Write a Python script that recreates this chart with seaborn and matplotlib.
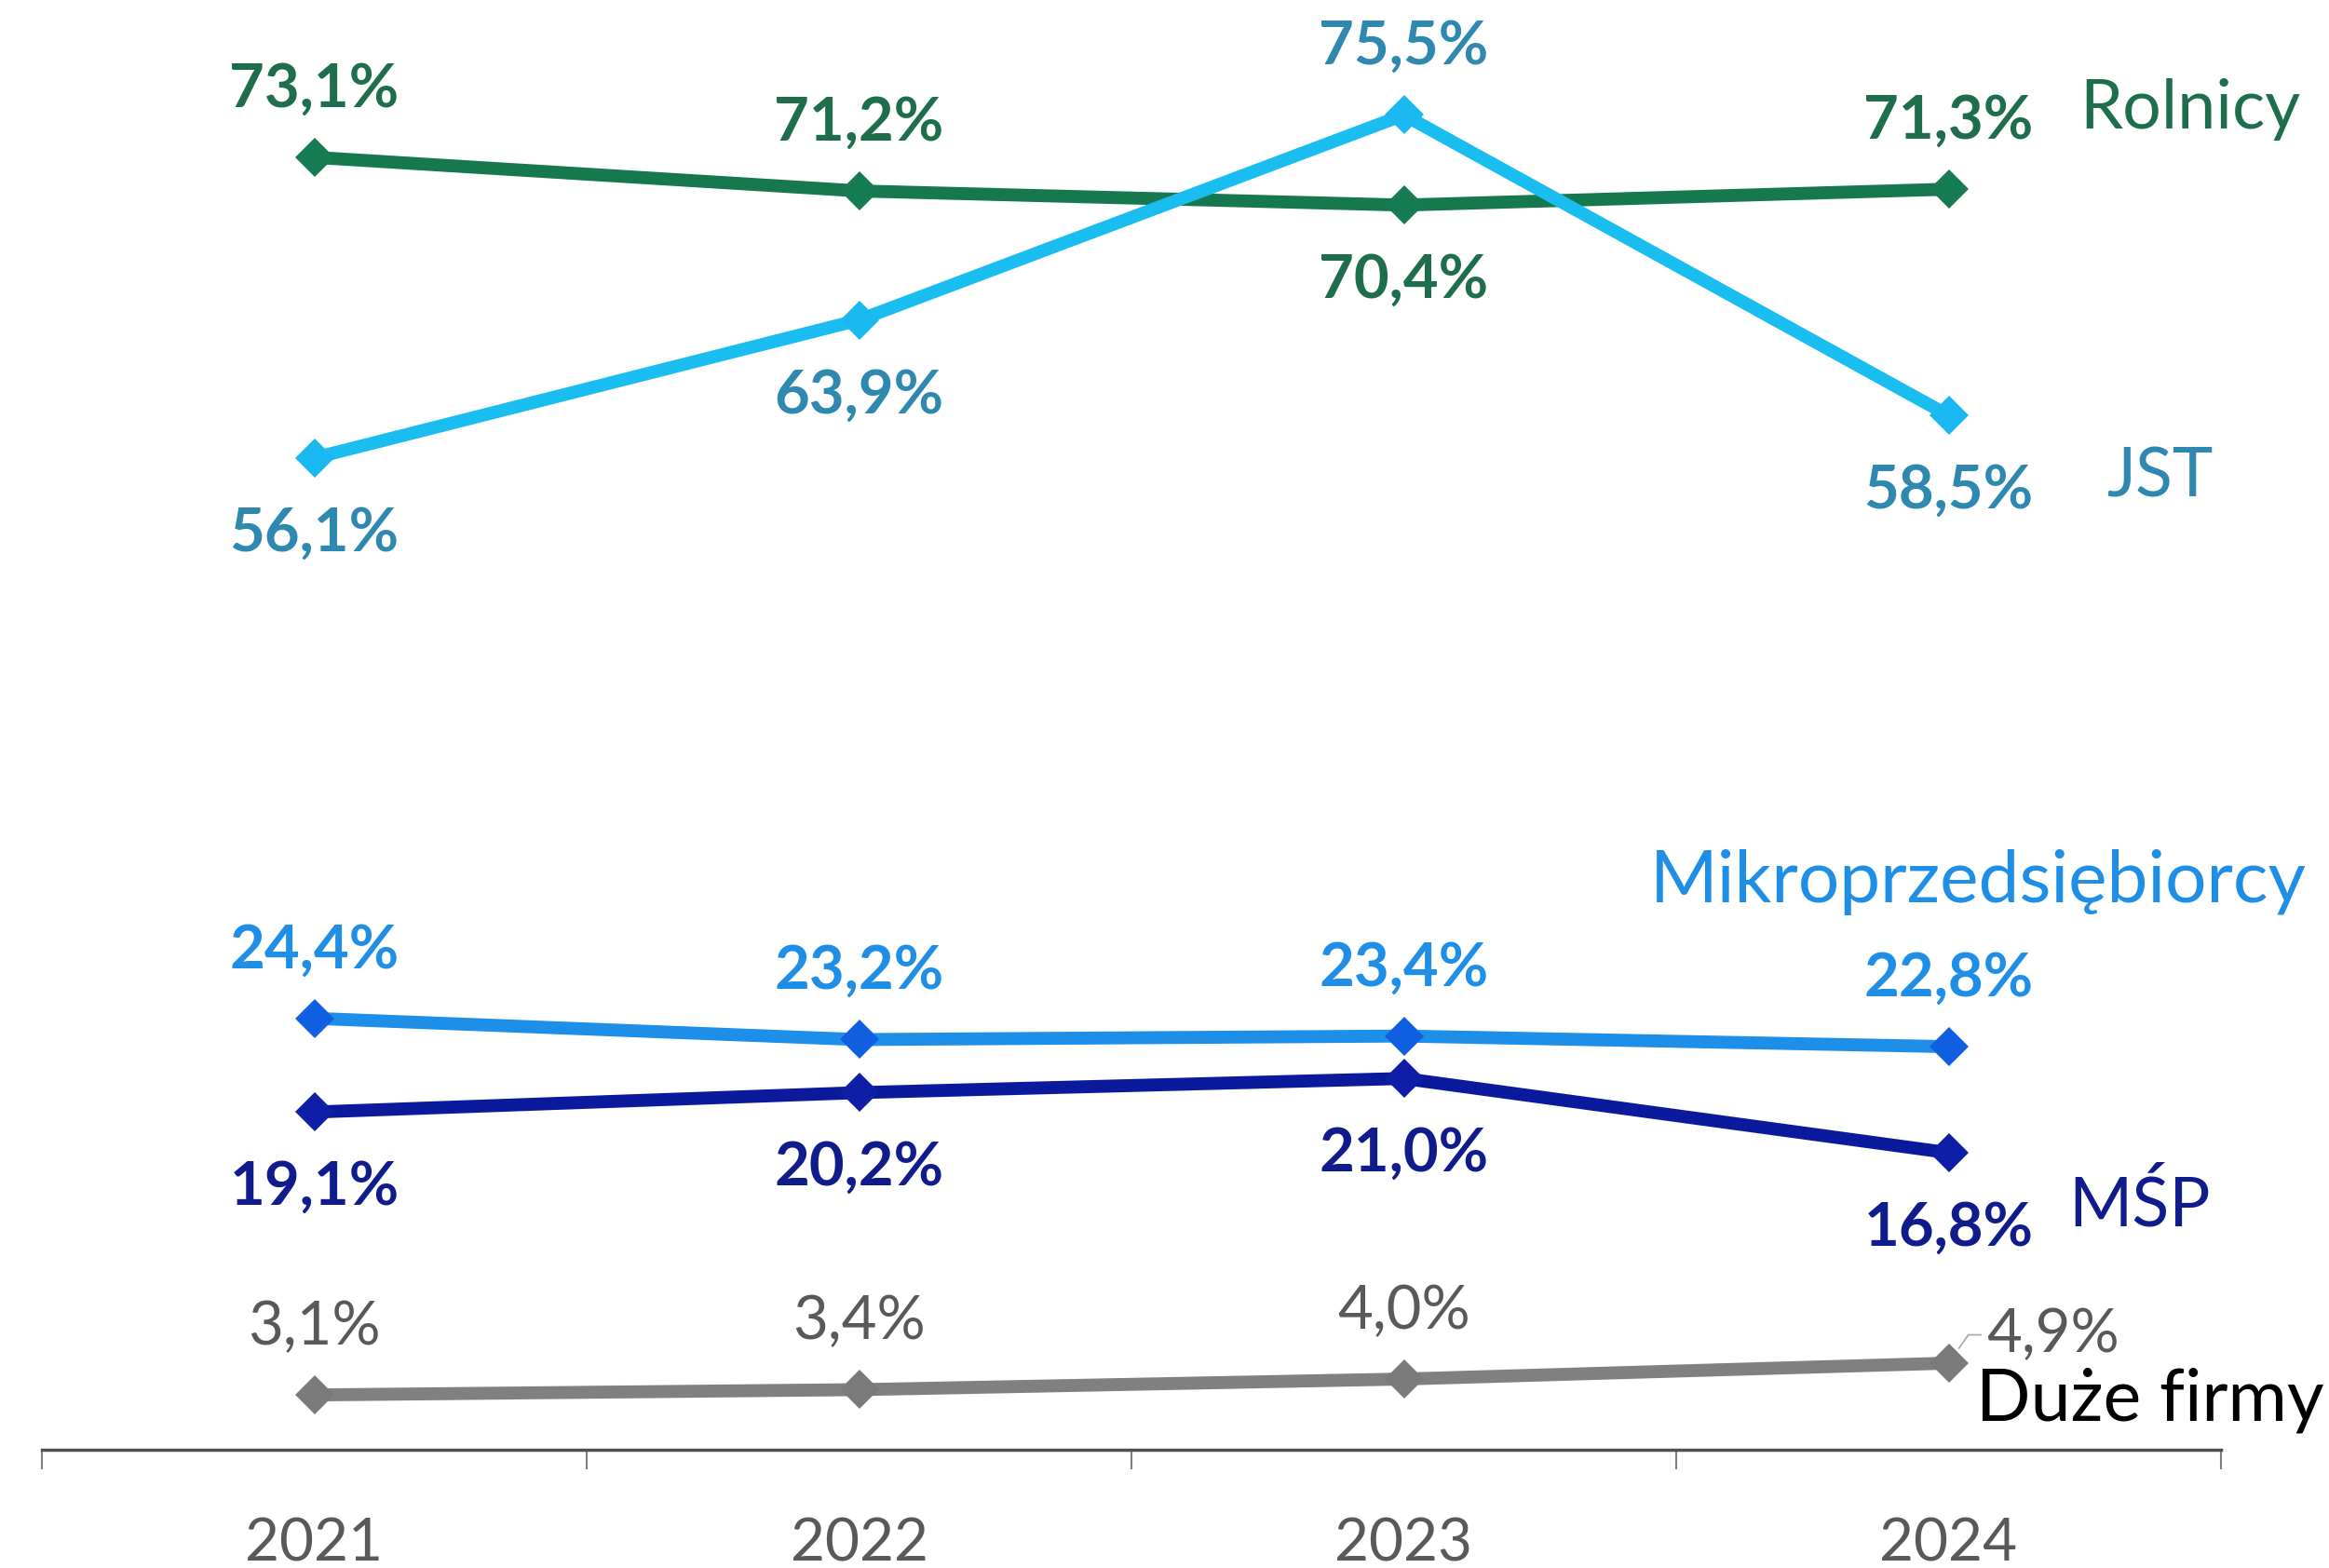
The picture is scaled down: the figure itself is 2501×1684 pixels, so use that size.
import matplotlib
matplotlib.use("Agg")
import matplotlib.pyplot as plt
import seaborn as sns
import pandas as pd
import numpy as np

years = ["2021", "2022", "2023", "2024"]
rolnicy = [73.1, 71.2, 70.4, 71.3]
jst = [56.1, 63.9, 75.5, 58.5]
mikro = [24.4, 23.2, 23.4, 22.8]
msp = [19.1, 20.2, 21.0, 16.8]
duze = [3.1, 3.4, 4.0, 4.9]

series_names = ["Rolnicy", "JST", "Mikroprzedsiębiorcy", "MŚP", "Duże firmy"]
series_values = [rolnicy, jst, mikro, msp, duze]

line_colors = ["#16784F", "#1ABDF0", "#1E8FE8", "#0B1A9C", "#808080"]
marker_colors = ["#167A52", "#1AB8F0", "#0F5FE0", "#0E1EA6", "#7A7A7A"]
label_colors = ["#1E6E4E", "#2E88B0", "#1E8EE6", "#111C8C", "#595959"]
name_colors = ["#1E6E4E", "#2E88B0", "#1E8EE6", "#111C8C", "#000000"]
label_bold = [True, True, True, True, False]
# +1 above, -1 below
label_side = [
    [1, 1, -1, 1],
    [-1, -1, 1, -1],
    [1, 1, 1, 1],
    [-1, -1, -1, -1],
    [1, 1, 1, 0],
]

rows = []
for name, vals in zip(series_names, series_values):
    for i, v in enumerate(vals):
        rows.append({"year": i, "value": v, "series": name})
df = pd.DataFrame(rows)

sns.set_style("white")
plt.rcParams["font.family"] = ["Lato", "DejaVu Sans"]

W, H = 2501, 1684
fig = plt.figure(figsize=(W / 100, H / 100), dpi=100)
ax = fig.add_axes([45 / W, 127 / H, 2340 / W, 1557 / H])

for name, lc, mc in zip(series_names, line_colors, marker_colors):
    sub = df[df["series"] == name]
    sns.lineplot(data=sub, x="year", y="value", ax=ax, color=lc, linewidth=10,
                 marker="D", markersize=21, markerfacecolor=mc,
                 markeredgecolor=mc, markeredgewidth=0, legend=False, zorder=3)

ax.set_xlim(-0.5, 3.5)
ax.set_ylim(0, 82)

def pct(v):
    return f"{v:.1f}".replace(".", ",") + "%"

for si, (name, vals) in enumerate(zip(series_names, series_values)):
    for i, v in enumerate(vals):
        side = label_side[si][i]
        if side == 0:
            continue
        dy = 73 if side > 0 else -81
        ax.annotate(pct(v), xy=(i, v), xytext=(0, dy), textcoords="offset pixels",
                    ha="center", va="center", fontsize=47,
                    fontweight="bold" if label_bold[si] else "normal",
                    color=label_colors[si], zorder=5)

# 4,9% with leader line
ax.annotate(pct(duze[3]), xy=(3, duze[3]), xytext=(3.07, 6.5),
            textcoords="data", ha="left", va="center", fontsize=47,
            color=label_colors[4], zorder=5, annotation_clip=False,
            arrowprops=dict(arrowstyle="-", color="#A6A6A6", lw=1.2,
                            shrinkA=2, shrinkB=14,
                            connectionstyle="angle,angleA=180,angleB=55,rad=0"))

# series names
name_pos = [
    (3.24, 75.8, "left", 53),
    (3.29, 55.0, "left", 53),
    (3.657, 32.1, "right", 56.5),
    (3.22, 13.8, "left", 53),
    (3.05, 2.8, "left", 55.5),
]
for (x, y, ha, fs), name, c in zip(name_pos, series_names, name_colors):
    ax.text(x, y, name, ha=ha, va="center", fontsize=fs, color=c,
            clip_on=False, zorder=5)

# axes styling
for s in ["top", "right", "left"]:
    ax.spines[s].set_visible(False)
ax.spines["bottom"].set_color("#505050")
ax.spines["bottom"].set_linewidth(2.5)
ax.set_yticks([])
ax.set_xticks([-0.5, 0.5, 1.5, 2.5, 3.5])
ax.set_xticklabels([])
ax.set_xticks([0, 1, 2, 3], minor=True)
ax.set_xticklabels(years, minor=True)
ax.tick_params(axis="x", which="major", bottom=True, direction="out", length=15,
               width=1.5, color="#808080")
ax.tick_params(axis="x", which="minor", bottom=True, length=0, pad=52,
               labelsize=46, labelcolor="#595959")
ax.set_xlabel("")
ax.set_ylabel("")
ax.patch.set_alpha(0)

fig.savefig("out.png", dpi=100)
